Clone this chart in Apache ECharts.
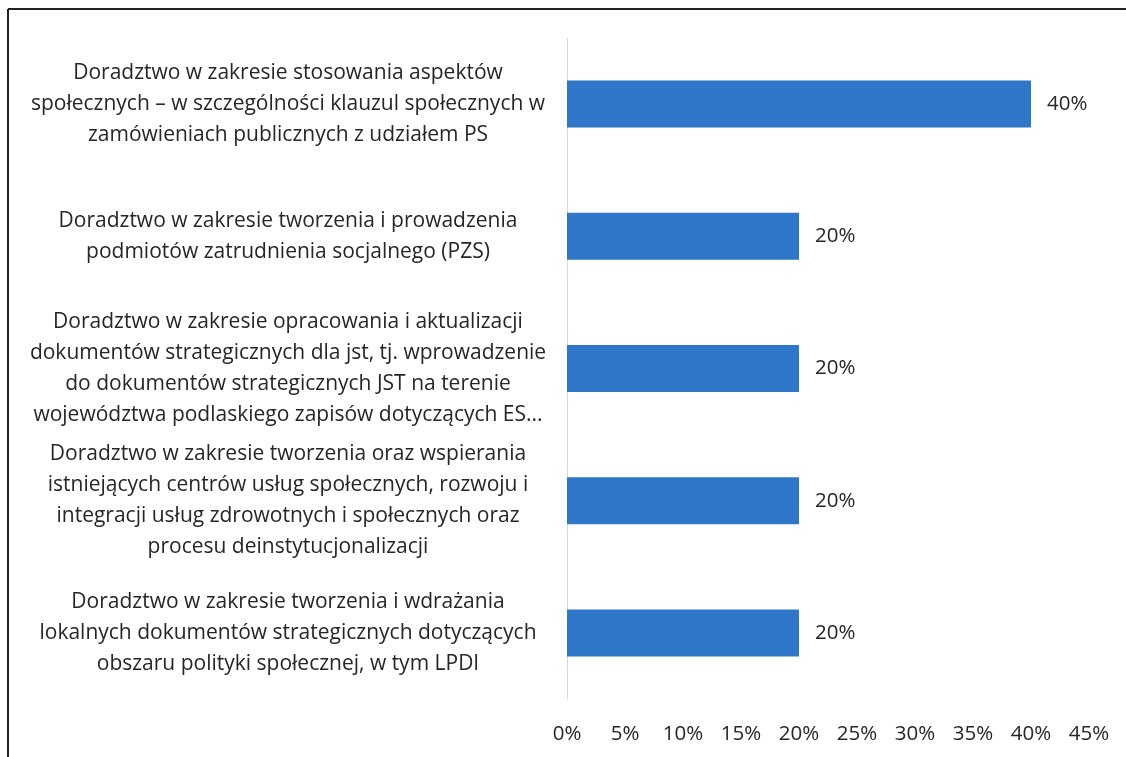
<!DOCTYPE html>
<html><head><meta charset="utf-8">
<script src="https://cdn.jsdelivr.net/npm/echarts@6/dist/echarts.min.js"></script>
<style>html,body{margin:0;padding:0;background:#fff}#c{width:1126px;height:757px}</style>
</head><body><div id="c"></div>
<script>
const categories = [
  "Doradztwo w zakresie stosowania aspektów\nspołecznych – w szczególności klauzul społecznych w\nzamówieniach publicznych z udziałem PS",
  "Doradztwo w zakresie tworzenia i prowadzenia\npodmiotów zatrudnienia socjalnego (PZS)",
  "Doradztwo w zakresie opracowania i aktualizacji\ndokumentów strategicznych dla jst, tj. wprowadzenie\ndo dokumentów strategicznych JST na terenie\nwojewództwa podlaskiego zapisów dotyczących ES...",
  "Doradztwo w zakresie tworzenia oraz wspierania\nistniejących centrów usług społecznych, rozwoju i\nintegracji usług zdrowotnych i społecznych oraz\nprocesu deinstytucjonalizacji",
  "Doradztwo w zakresie tworzenia i wdrażania\nlokalnych dokumentów strategicznych dotyczących\nobszaru polityki społecznej, w tym LPDI"
];
const values = [40, 20, 20, 20, 20];
const font = "Open Sans";
const chart = echarts.init(document.getElementById('c'));
chart.setOption({
  animation: false,
  backgroundColor: '#fff',
  grid: {left: 567, right: 37, top: 38, bottom: 58, containLabel: false},
  graphic: [
    {type: 'line', shape: {x1: 8, y1: 9, x2: 1126, y2: 9}, style: {stroke: '#222', lineWidth: 2}},
    {type: 'line', shape: {x1: 8, y1: 9, x2: 8, y2: 757}, style: {stroke: '#222', lineWidth: 2}}
  ],
  xAxis: {
    type: 'value', min: 0, max: 45, interval: 5,
    axisLine: {show: false}, axisTick: {show: false}, splitLine: {show: false},
    axisLabel: {formatter: '{value}%', color: '#262626', fontFamily: font, fontSize: 20.5, margin: 25}
  },
  yAxis: {
    type: 'category', inverse: true, data: categories,
    axisLine: {show: true, lineStyle: {color: '#d9d9d9', width: 1}},
    axisTick: {show: false},
    axisLabel: {color: '#262626', fontFamily: font, fontSize: 21, lineHeight: 31, align: 'center', margin: 279, padding: [11, 0, 0, 0]}
  },
  series: [{
    type: 'bar', data: values, barWidth: 47,
    itemStyle: {color: '#2f78c9'},
    label: {show: true, position: 'right', distance: 16, formatter: '{c}%', color: '#262626', fontFamily: font, fontSize: 20.5}
  }]
});
</script></body></html>
